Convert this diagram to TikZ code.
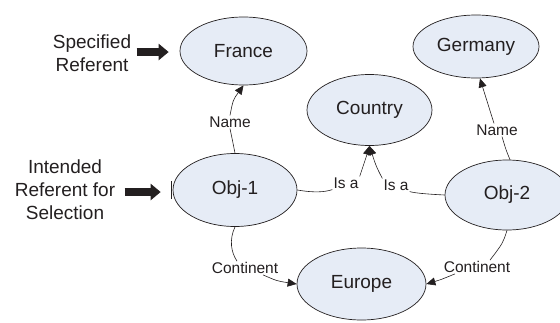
\documentclass[tikz,border=0pt]{standalone}
\usepackage{fontspec}
\setmainfont{Liberation Sans}
\usetikzlibrary{shapes.geometric,arrows.meta}
\definecolor{entfill}{RGB}{230,236,246}
\definecolor{ink}{RGB}{35,31,32}
\tikzset{
  ent/.style={ellipse, draw=ink, line width=0.7pt, fill=entfill, inner sep=0pt, text=ink, font=\fontsize{19}{22}\selectfont},
  lab/.style={inner sep=1pt, text=ink, font=\fontsize{15.5}{18}\selectfont},
  side/.style={align=center, text=ink, font=\fontsize{19}{23}\selectfont},
  rel/.style={draw=ink, line width=0.6pt},
  arr/.style={-{Triangle[length=9pt,width=8pt]}},
  bigarr/.style={draw=ink, line width=8pt, -{Triangle[length=10pt,width=16pt]}}
}
\begin{document}
\begin{tikzpicture}[x=1pt,y=-1pt]
\useasboundingbox (0,0) rectangle (560,322);
\clip (0,0) rectangle (560,322);
% entities
\node[ent, minimum width=127pt, minimum height=68pt] (fr) at (243.5,51) {France};
\node[ent, minimum width=126pt, minimum height=63pt] (ge) at (476,46.5) {Germany};
\node[ent, minimum width=125pt, minimum height=71pt] (co) at (369.5,110) {Country};
\node[ent, minimum width=124pt, minimum height=73pt] (o1) at (235,190) {Obj-1};
\node[ent, minimum width=124pt, minimum height=70pt] (o2) at (507,195) {Obj-2};
\node[ent, minimum width=129pt, minimum height=72pt] (eu) at (361.5,284) {Europe};
% side texts
\node[side] (sp) at (92,53.5) {Specified\\Referent};
\node[side] (ir) at (65,190) {Intended\\Referent for\\Selection};
% relation labels
\node[lab] (n1) at (230,122) {Name};
\node[lab] (n2) at (497,130) {Name};
\node[lab] (i1) at (346,183) {Is a};
\node[lab] (i2) at (396,185) {Is a};
\node[lab] (c1) at (245,268) {Continent};
\node[lab] (c2) at (477,267) {Continent};
% big arrows
\draw[bigarr] ([xshift=-43pt,yshift=-1pt]fr.west) -- ([xshift=-11pt,yshift=-1pt]fr.west);
\draw[bigarr] ([xshift=-48pt,yshift=-2pt]o1.west) -- ([xshift=-12pt,yshift=-2pt]o1.west);
\draw[ink, line width=0.9pt] ([xshift=-1pt,yshift=9pt]o1.west) -- ([xshift=-1pt,yshift=-9pt]o1.west);
% Name connectors
\draw[rel] (o1.north) .. controls (233,143) .. (n1.south);
\draw[rel, arr] (n1.north) .. controls (233,100) .. (fr.south);
\draw[rel] ([xshift=3pt]o2.north) .. controls (506,150) .. ([xshift=5pt]n2.south);
\draw[rel, arr] ([xshift=-3pt]n2.north) .. controls (488,105) .. ([xshift=4pt]ge.south);
% Is a connectors
\draw[rel] (o1.east) .. controls (315,193) and (325,192) .. (i1.south west);
\draw[rel, arr] (i1.north east) .. controls (364,165) .. (co.south);
\draw[rel] (o2.west) .. controls (425,194) and (415,193) .. (i2.south east);
\draw[rel, arr] (i2.north west) .. controls (376,166) .. (co.south);
% Continent connectors
\draw[rel] (o1.south) .. controls (229,240) and (231,252) .. ([xshift=-8pt]c1.north);
\draw[rel, arr] ([xshift=18pt]c1.south) .. controls (277,281) .. (eu.west);
\draw[rel] (o2.south) .. controls (503,243) .. ([xshift=13pt]c2.north);
\draw[rel, arr] ([xshift=-22pt]c2.south) .. controls (440,280) .. (eu.east);
\end{tikzpicture}
\end{document}
